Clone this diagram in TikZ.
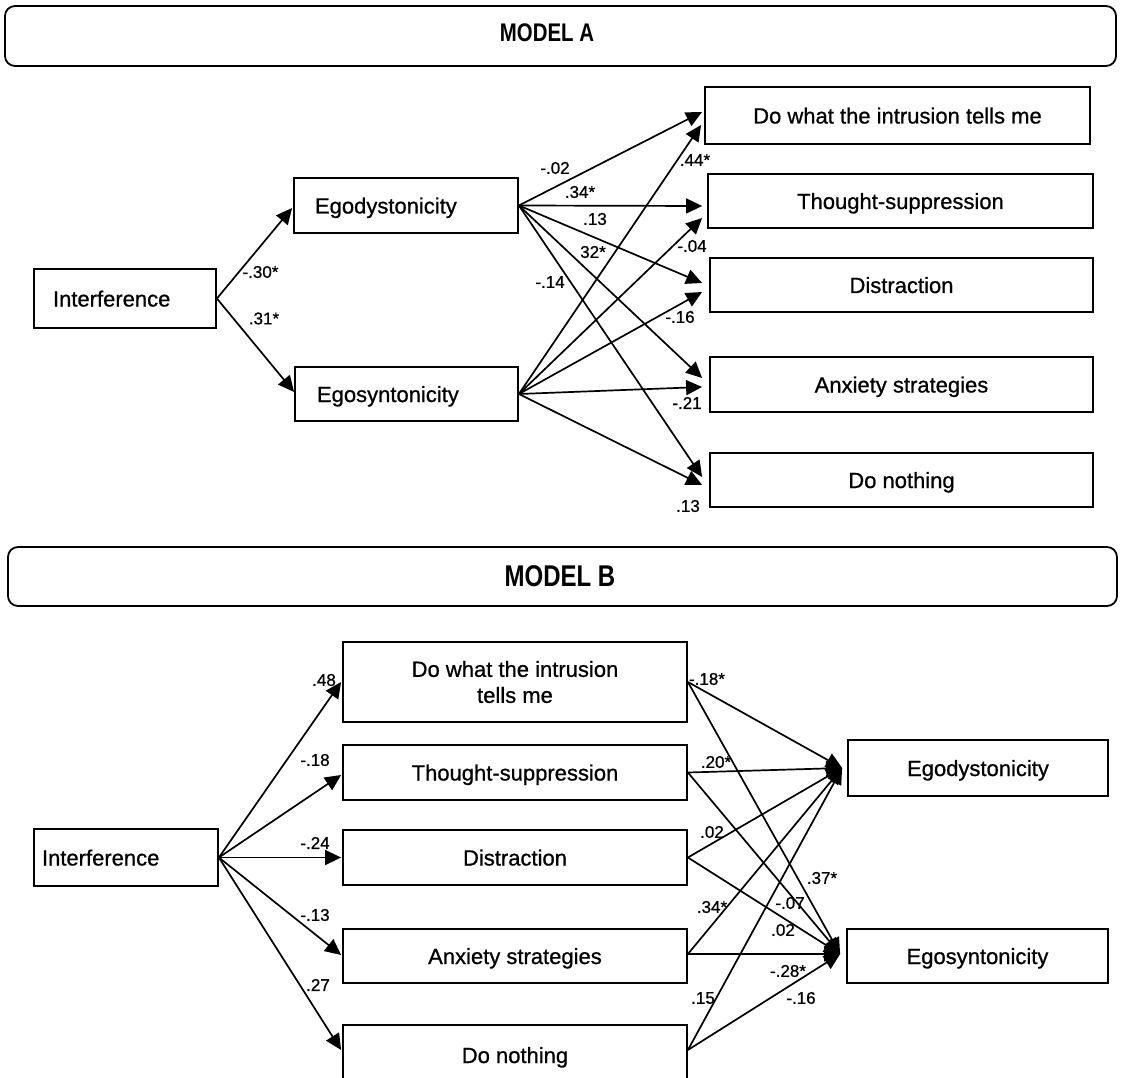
\documentclass[tikz,border=0pt]{standalone}
\usepackage{fontspec}
\setmainfont[FakeBold=0.8]{Liberation Sans}
\newfontfamily\headfont[FakeStretch=0.8]{Liberation Sans}
\usetikzlibrary{arrows.meta,calc}

\begin{document}
\begin{tikzpicture}[x=1pt,y=-1pt,
  box/.style={draw, line width=1.8pt, inner ysep=0pt,
    font=\fontsize{22}{26}\selectfont, text height=16pt, text depth=0pt},
  lbox/.style={box, align=left},
  cbox/.style={box, align=center, inner xsep=0pt},
  frame/.style={draw, line width=1.8pt, rounded corners=10pt},
  arr/.style={line width=1.7pt, -{Triangle[length=16pt,width=15pt]}},
  coef/.style={font=\fontsize{17}{20}\selectfont, inner sep=0pt},
  headA/.style={font=\headfont\bfseries\fontsize{25.5}{30}\selectfont, inner sep=0pt},
  headB/.style={font=\headfont\bfseries\fontsize{30}{36}\selectfont, inner sep=0pt},
]
\useasboundingbox (0,0) rectangle (1125,1078);
\clip (0,0) rectangle (1125,1078);

% ---------------- Model A ----------------
\draw[frame] (5,6) rectangle (1116,66);
\node[headA] (titleA) at (547,32.5) {MODEL A};

\node[lbox, minimum height=59pt, text width=144pt, inner xsep=19pt] (intA) at (125,298.5) {Interference};
\node[lbox, minimum height=55pt, text width=182pt, inner xsep=21pt] (edA) at (406,205.5) {Egodystonicity};
\node[lbox, minimum height=54pt, text width=179pt, inner xsep=22pt] (esA) at (406.5,394) {Egosyntonicity};

\node[cbox, minimum width=385pt, minimum height=57pt] (doA) at (897.5,115.5) {Do what the intrusion tells me};
\node[cbox, minimum width=385pt, minimum height=54pt] (tsA) at (900.5,201) {Thought-suppression};
\node[cbox, minimum width=383pt, minimum height=54pt] (diA) at (901.5,285) {Distraction};
\node[cbox, minimum width=383pt, minimum height=55pt] (anA) at (901.5,384.5) {Anxiety strategies};
\node[cbox, minimum width=383pt, minimum height=54pt] (dnA) at (901.5,480) {Do nothing};

\draw[arr] (intA.east) -- ([shift={(-1,2.5)}]edA.west);
\draw[arr] (intA.east) -- ([shift={(0,-2)}]esA.west);

\draw[arr] (edA.east) -- ([shift={(-2,-3.5)}]doA.west);
\draw[arr] (edA.east) -- ([shift={(-5,5)}]tsA.west);
\draw[arr] (edA.east) -- ([shift={(-7,-2)}]diA.west);
\draw[arr] (edA.east) -- ([shift={(-7,-6.5)}]anA.west);
\draw[arr] (edA.east) -- ([shift={(-7,-3)}]dnA.west);

\draw[arr] (esA.east) -- ([shift={(-3,9.5)}]doA.west);
\draw[arr] (esA.east) -- ([shift={(-5,17)}]tsA.west);
\draw[arr] (esA.east) -- ([shift={(-7,7)}]diA.west);
\draw[arr] (esA.east) -- ([shift={(-7,2.5)}]anA.west);
\draw[arr] (esA.east) -- ([shift={(-7,5)}]dnA.west);

\node[coef] (cA1) at (260.5,272) {-.30*};
\node[coef] (cA2) at (264,318.5) {.31*};
\node[coef] (cA3) at (555,168) {-.02};
\node[coef] (cA4) at (580,192) {.34*};
\node[coef] (cA5) at (595,219) {.13};
\node[coef] (cA6) at (593,252) {32*};
\node[coef] (cA7) at (550,282) {-.14};
\node[coef] (cA8) at (695,160) {.44*};
\node[coef] (cA9) at (692,246) {-.04};
\node[coef] (cA10) at (680,317) {-.16};
\node[coef] (cA11) at (687,403) {-.21};
\node[coef] (cA12) at (688,506) {.13};

% ---------------- Model B ----------------
\draw[frame] (8,547) rectangle (1117,606);
\node[headB] (titleB) at (560,576) {MODEL B};

\node[lbox, minimum height=57pt, text width=168pt, inner xsep=8pt] (intB) at (126,857.5) {Interference};

\node[box, align=center, inner xsep=0pt, text height=, text depth=, minimum width=344pt, minimum height=80pt] (doB) at (515,682) {Do what the intrusion\\tells me};
\node[cbox, minimum width=344pt, minimum height=55pt] (tsB) at (515,772.5) {Thought-suppression};
\node[cbox, minimum width=344pt, minimum height=55pt] (diB) at (515,857.5) {Distraction};
\node[cbox, minimum width=344pt, minimum height=54pt] (anB) at (515,956) {Anxiety strategies};
\node[cbox, minimum width=344pt, minimum height=60pt] (dnB) at (515,1055) {Do nothing};

\node[cbox, minimum width=260pt, minimum height=56pt] (edB) at (978,768) {Egodystonicity};
\node[cbox, minimum width=261pt, minimum height=54pt] (esB) at (977.5,956) {Egosyntonicity};

\draw[arr] (intB.east) -- ([shift={(-1,0)}]doB.west);
\draw[arr] (intB.east) -- ([shift={(-1,2.5)}]tsB.west);
\draw[arr] (intB.east) -- ([shift={(-1,0)}]diB.west);
\draw[arr] (intB.east) -- ([shift={(-1,-1)}]anB.west);
\draw[arr] (intB.east) -- ([shift={(-1,-5)}]dnB.west);

\foreach \src/\dy in {doB/0, tsB/0, diB/0, anB/-2, dnB/-5}{
  \draw[arr] ([shift={(0,\dy)}]\src.east) -- ([shift={(-5,0)}]edB.west);
  \draw[arr] ([shift={(0,\dy)}]\src.east) -- ([shift={(-6,-2)}]esB.west);
}

\node[coef] (cB1) at (324,680) {.48};
\node[coef] (cB2) at (315,760) {-.18};
\node[coef] (cB3) at (315,843) {-.24};
\node[coef] (cB4) at (315,915) {-.13};
\node[coef] (cB5) at (318,985) {.27};

\node[coef] (cB6) at (707,679) {-.18*};
\node[coef] (cB7) at (716,762) {.20*};
\node[coef] (cB8) at (712,832) {.02};
\node[coef] (cB9) at (822,878) {.37*};
\node[coef] (cB10) at (790,903) {-.07};
\node[coef] (cB11) at (712,907) {.34*};
\node[coef] (cB12) at (783,930) {.02};
\node[coef] (cB13) at (788,971) {-.28*};
\node[coef] (cB14) at (801,998) {-.16};
\node[coef] (cB15) at (703,998) {.15};
\end{tikzpicture}
\end{document}
